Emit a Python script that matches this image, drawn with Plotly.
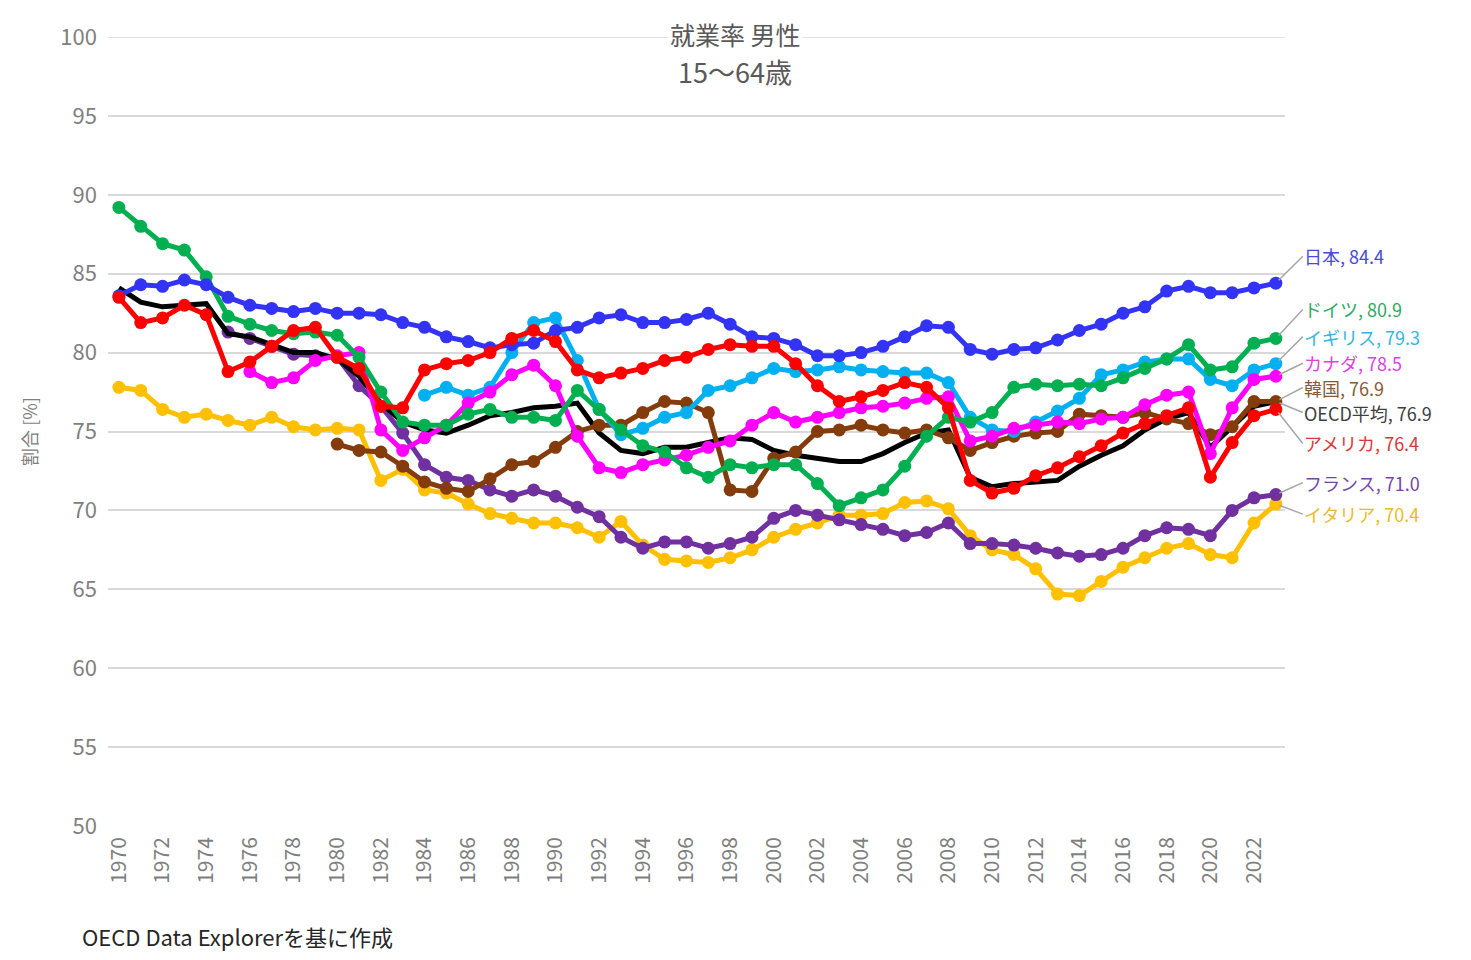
import plotly.graph_objects as go

years = list(range(1970, 2024))
N = None

japan = [83.6, 84.3, 84.2, 84.6, 84.3, 83.5, 83.0, 82.8, 82.6, 82.8,
         82.5, 82.5, 82.4, 81.9, 81.6, 81.0, 80.7, 80.3, 80.5, 80.6,
         81.4, 81.6, 82.2, 82.4, 81.9, 81.9, 82.1, 82.5, 81.8, 81.0,
         80.9, 80.5, 79.8, 79.8, 80.0, 80.4, 81.0, 81.7, 81.6, 80.2,
         79.9, 80.2, 80.3, 80.8, 81.4, 81.8, 82.5, 82.9, 83.9, 84.2,
         83.8, 83.8, 84.1, 84.4]
germany = [89.2, 88.0, 86.9, 86.5, 84.8, 82.3, 81.8, 81.4, 81.2, 81.3,
           81.1, 79.7, 77.5, 75.6, 75.4, 75.4, 76.1, 76.4, 75.9, 75.9,
           75.7, 77.6, 76.4, 75.1, 74.1, 73.7, 72.7, 72.1, 72.9, 72.7,
           72.9, 72.9, 71.7, 70.3, 70.8, 71.3, 72.8, 74.7, 75.9, 75.6,
           76.2, 77.8, 78.0, 77.9, 78.0, 77.9, 78.4, 79.0, 79.6, 80.5,
           78.9, 79.1, 80.6, 80.9]
uk = [N] * 14 + [77.3, 77.8, 77.3, 77.8, 80.0, 81.9,
                 82.2, 79.5, 76.4, 74.8, 75.2, 75.9, 76.2, 77.6, 77.9, 78.4,
                 79.0, 78.8, 78.9, 79.1, 78.9, 78.8, 78.7, 78.7, 78.1, 75.9,
                 75.1, 75.0, 75.6, 76.3, 77.1, 78.6, 78.9, 79.4, 79.6, 79.6,
                 78.3, 77.9, 78.9, 79.3]
canada = [N] * 6 + [78.8, 78.1, 78.4, 79.5,
                    79.8, 80.0, 75.1, 73.8, 74.6, 75.4, 76.8, 77.5, 78.6, 79.2,
                    77.9, 74.7, 72.7, 72.4, 72.9, 73.2, 73.5, 74.0, 74.4, 75.4,
                    76.2, 75.6, 75.9, 76.2, 76.5, 76.6, 76.8, 77.1, 77.2, 74.4,
                    74.7, 75.2, 75.4, 75.6, 75.5, 75.8, 75.9, 76.7, 77.3, 77.5,
                    73.6, 76.5, 78.3, 78.5]
korea = [N] * 10 + [74.2, 73.8, 73.7, 72.8, 71.8, 71.4, 71.2, 72.0, 72.9, 73.1,
                    74.0, 75.0, 75.4, 75.4, 76.2, 76.9, 76.8, 76.2, 71.3, 71.2,
                    73.3, 73.7, 75.0, 75.1, 75.4, 75.1, 74.9, 75.1, 74.6, 73.8,
                    74.3, 74.7, 74.9, 75.0, 76.1, 76.0, 75.9, 76.2, 75.8, 75.5,
                    74.8, 75.3, 76.9, 76.9]
oecd = [84.1, 83.2, 82.9, 83.0, 83.1, 81.2, 81.0, 80.5, 80.0, 80.0,
        79.6, 78.5, 76.8, 75.6, 75.1, 74.9, 75.4, 76.0, 76.2, 76.5,
        76.6, 76.8, 74.9, 73.8, 73.6, 74.0, 74.0, 74.3, 74.6, 74.5,
        73.8, 73.5, 73.3, 73.1, 73.1, 73.6, 74.3, 74.9, 75.1, 72.1,
        71.5, 71.7, 71.8, 71.9, 72.8, 73.5, 74.1, 75.1, 75.8, 76.2,
        74.0, 75.3, 76.6, 76.9]
usa = [83.5, 81.9, 82.2, 83.0, 82.4, 78.8, 79.4, 80.4, 81.4, 81.6,
       79.7, 79.0, 76.6, 76.5, 78.9, 79.3, 79.5, 80.0, 80.9, 81.4,
       80.7, 78.9, 78.4, 78.7, 79.0, 79.5, 79.7, 80.2, 80.5, 80.4,
       80.4, 79.3, 77.9, 76.9, 77.2, 77.6, 78.1, 77.8, 76.5, 71.9,
       71.1, 71.4, 72.2, 72.7, 73.4, 74.1, 74.9, 75.5, 76.0, 76.5,
       72.1, 74.3, 76.0, 76.4]
france = [N] * 5 + [81.3, 80.9, 80.4, 79.9, 79.8,
                    79.7, 77.9, 76.6, 74.9, 72.9, 72.1, 71.9, 71.3, 70.9, 71.3,
                    70.9, 70.2, 69.6, 68.3, 67.6, 68.0, 68.0, 67.6, 67.9, 68.3,
                    69.5, 70.0, 69.7, 69.4, 69.1, 68.8, 68.4, 68.6, 69.2, 67.9,
                    67.9, 67.8, 67.6, 67.3, 67.1, 67.2, 67.6, 68.4, 68.9, 68.8,
                    68.4, 70.0, 70.8, 71.0]
italy = [77.8, 77.6, 76.4, 75.9, 76.1, 75.7, 75.4, 75.9, 75.3, 75.1,
         75.2, 75.1, 71.9, 72.6, 71.3, 71.1, 70.4, 69.8, 69.5, 69.2,
         69.2, 68.9, 68.3, 69.3, 67.8, 66.9, 66.8, 66.7, 67.0, 67.5,
         68.3, 68.8, 69.2, 69.7, 69.7, 69.8, 70.5, 70.6, 70.1, 68.4,
         67.5, 67.2, 66.3, 64.7, 64.6, 65.5, 66.4, 67.0, 67.6, 67.9,
         67.2, 67.0, 69.2, 70.4]

# name, values, line colour, label colour, marker?, label offset (px)
series = [
    ("イタリア", italy, "#FFC000", "#EDB92A", True, 10),
    ("フランス", france, "#7030A0", "#7446A6", True, -12),
    ("OECD平均", oecd, "#000000", "#404040", False, 11),
    ("韓国", korea, "#843C0C", "#8A5A34", True, -14),
    ("イギリス", uk, "#00B0F0", "#33B5E5", True, -27),
    ("カナダ", canada, "#FF00FF", "#E040E0", True, -13),
    ("ドイツ", germany, "#00B050", "#2EAA62", True, -29),
    ("日本", japan, "#3333F5", "#4848E0", True, -27),
    ("アメリカ", usa, "#FF0000", "#E03535", True, 34),
]

FONT = "Noto Sans CJK JP"
fig = go.Figure()
annotations = []
for name, vals, col, lcol, mk, off in series:
    fig.add_trace(go.Scatter(
        x=years, y=vals, name=name,
        mode="lines+markers" if mk else "lines",
        line=dict(color=col, width=5),
        marker=dict(color=col, size=13),
        cliponaxis=False, showlegend=False,
    ))
    annotations.append(dict(
        x=years[-1], y=vals[-1], xref="x", yref="y",
        text=f"{name}, {vals[-1]:.1f}",
        showarrow=True, arrowhead=0, arrowwidth=1.5, arrowcolor="#A6A6A6",
        ax=27, ay=off, axref="pixel", ayref="pixel",
        xanchor="left", yanchor="middle", standoff=4, borderpad=0,
        font=dict(family=FONT, size=18, color=lcol),
    ))

annotations += [
    dict(text="就業率 男性", xref="paper", yref="paper", x=0.533, y=1.004,
         xanchor="center", yanchor="middle", showarrow=False, bgcolor="white",
         borderpad=1, font=dict(family=FONT, size=25, color="#595959")),
    dict(text="15～64歳", xref="paper", yref="paper", x=0.533, y=0.956,
         xanchor="center", yanchor="middle", showarrow=False, borderpad=0,
         font=dict(family=FONT, size=27, color="#595959")),
    dict(text="OECD Data Explorerを基に作成", xref="paper", yref="paper",
         x=-0.0238, y=-0.1394, xanchor="left", yanchor="middle", showarrow=False,
         font=dict(family=FONT, size=22, color="#262626")),
]

shapes = [dict(type="line", xref="paper", yref="y", x0=0, x1=1, y0=100, y1=100,
               line=dict(color="#D9D9D9", width=1.5), layer="below")]

fig.update_layout(
    width=1471, height=960,
    margin=dict(l=108, r=186, t=37, b=134),
    paper_bgcolor="white", plot_bgcolor="white",
    font=dict(family=FONT, color="#7F7F7F"),
    annotations=annotations,
    shapes=shapes,
    showlegend=False,
    xaxis=dict(range=[1969.5, 2023.42], tickmode="array",
               tickvals=list(range(1970, 2023, 2)),
               ticktext=[str(y) for y in range(1970, 2023, 2)],
               tickangle=-90, showgrid=False, zeroline=False, showline=False,
               ticks="", tickfont=dict(size=21, color="#7F7F7F"),
               ticklabelstandoff=6),
    yaxis=dict(range=[50, 100], dtick=5, tick0=50, showgrid=True,
               gridcolor="#D9D9D9", gridwidth=1.5, zeroline=False,
               showline=False, ticks="", tickfont=dict(size=22, color="#7F7F7F"),
               ticklabelstandoff=10,
               title=dict(text="割合 [%]", font=dict(size=18, color="#7F7F7F"),
                          standoff=18)),
)

fig.write_html("out.html", config={"displayModeBar": False},
               post_script="document.body.style.margin='0';")
